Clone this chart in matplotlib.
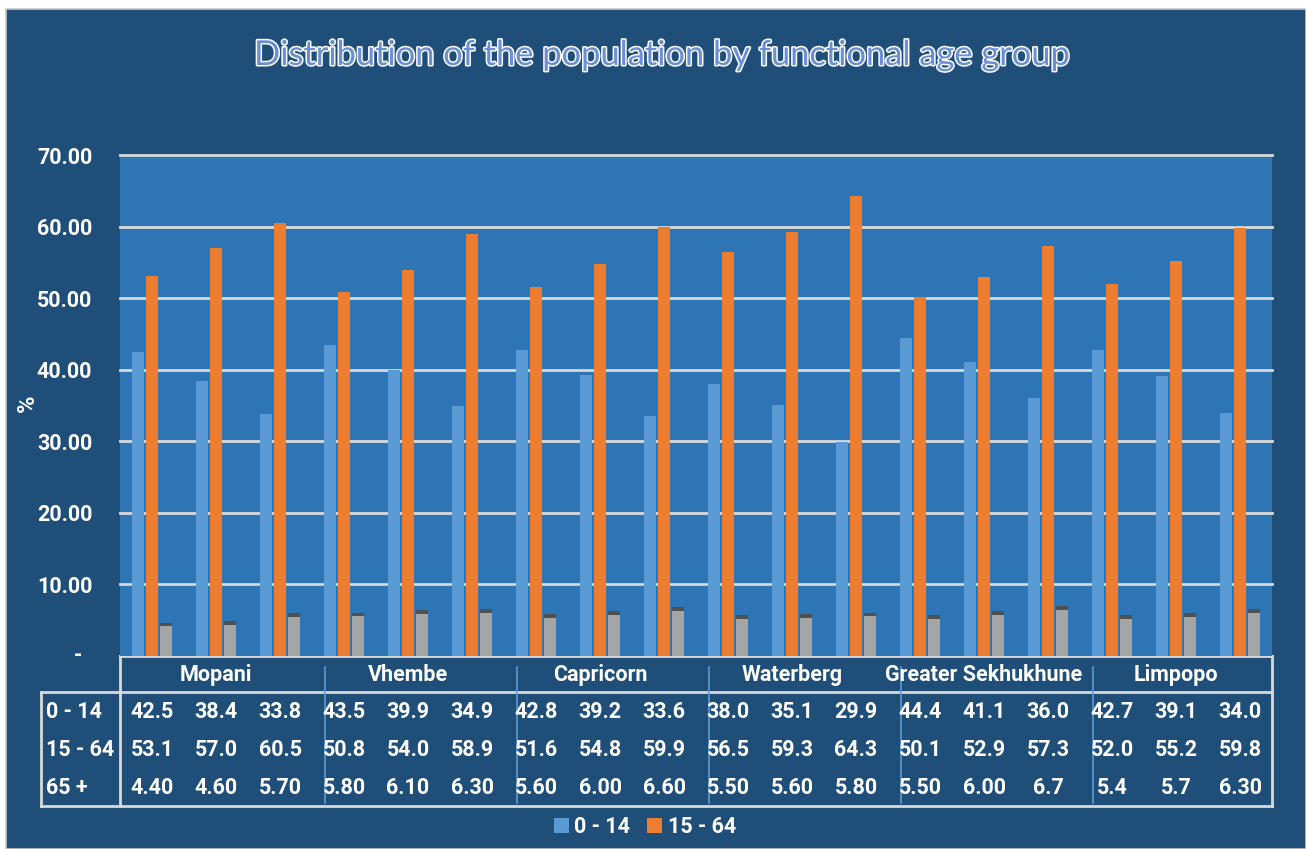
import matplotlib
matplotlib.use("Agg")
import matplotlib.pyplot as plt
import matplotlib.patheffects as pe
from matplotlib.patches import Rectangle, Patch
from matplotlib.lines import Line2D
from matplotlib import transforms

# ---- data -------------------------------------------------------------
districts = ["Mopani", "Vhembe", "Capricorn", "Waterberg",
             "Greater Sekhukhune", "Limpopo"]
series_names = ["0 - 14", "15 - 64", "65 +"]

age_0_14 = ["42.5", "38.4", "33.8", "43.5", "39.9", "34.9",
            "42.8", "39.2", "33.6", "38.0", "35.1", "29.9",
            "44.4", "41.1", "36.0", "42.7", "39.1", "34.0"]
age_15_64 = ["53.1", "57.0", "60.5", "50.8", "54.0", "58.9",
             "51.6", "54.8", "59.9", "56.5", "59.3", "64.3",
             "50.1", "52.9", "57.3", "52.0", "55.2", "59.8"]
age_65_plus = ["4.40", "4.60", "5.70", "5.80", "6.10", "6.30",
               "5.60", "6.00", "6.60", "5.50", "5.60", "5.80",
               "5.50", "6.00", "6.7", "5.4", "5.7", "6.30"]

y_ticks = [0, 10, 20, 30, 40, 50, 60, 70]

# ---- style --------------------------------------------------------------
W, H = 1306, 849
BG = "#1f4e79"
PLOT_BG = "#2e75b6"
GRID = "#d9d9d9"
C_YOUNG = "#5b9bd5"
C_WORK = "#ed7d31"
C_OLD = "#a5a5a5"
C_CAP = "#505050"
TITLE_FONT = "Lato"
BOLD_FONT = "Roboto"
FS = 15.5

plt.rcParams["font.family"] = [BOLD_FONT, "DejaVu Sans"]


def fx(px):
    return px / W


def fy(py):
    return 1 - py / H


fig = plt.figure(figsize=(W / 100, H / 100), dpi=100, facecolor="white")
fig.patches.append(Rectangle((fx(6), 0), 1 - fx(6), fy(9), transform=fig.transFigure,
                             facecolor=BG, edgecolor="#c8c8c8", linewidth=1.2, zorder=-5))

ax = fig.add_axes([fx(120), fy(656), fx(1272) - fx(120), fy(155) - fy(656)])
ax.set_zorder(2)
ax.set_facecolor(PLOT_BG)
for s in ax.spines.values():
    s.set_visible(False)

n = len(age_0_14)
xs = list(range(n))
young = [float(v) for v in age_0_14]
work = [float(v) for v in age_15_64]
old = [float(v) for v in age_65_plus]

bw = 0.18
off = 0.22
ax.bar([x - off for x in xs], young, width=bw, color=C_YOUNG, zorder=3)
ax.bar(xs, work, width=bw, color=C_WORK, zorder=3)
ax.bar([x + off for x in xs], old, width=bw, color=C_OLD, zorder=3)
# darker top face on the 65+ bars
cap = 0.55
ax.bar([x + off for x in xs], [cap] * n, bottom=[v - cap / 2 for v in old],
       width=bw, color=C_CAP, zorder=4)

ax.set_xlim(-0.5, n - 0.5)
ax.set_ylim(0, 70)
for t in y_ticks[1:]:
    ax.axhline(t, color=GRID, linewidth=2, zorder=1, clip_on=False)

ax.set_xticks([])
ax.set_yticks(y_ticks)
ax.set_yticklabels(["" if t == 0 else f"{t:.2f}" for t in y_ticks])
ax.tick_params(axis="y", length=0, pad=20, labelcolor="white", labelsize=FS)
for lab in ax.get_yticklabels():
    lab.set_fontweight("bold")
# accounting-style zero label
yt = transforms.blended_transform_factory(fig.transFigure, ax.transData)
fig.text(fx(78), y_ticks[0], "-", transform=yt, ha="center", va="center",
         color="white", fontsize=FS, fontweight="bold")

fig.text(fx(27), fy(403), "%", rotation=90, ha="center", va="center",
         color="white", fontsize=17, fontweight="bold")

# ---- title --------------------------------------------------------------
fig.text(fx(663), fy(55), "Distribution of the population by functional age group",
         ha="center", va="center", fontsize=24.8, color="#6b8fd6", family=TITLE_FONT,
         path_effects=[pe.withStroke(linewidth=2.2, foreground="white")])

# ---- data table ---------------------------------------------------------
bt = transforms.blended_transform_factory(ax.transData, fig.transFigure)
ft = fig.transFigure
tab_kw = dict(color=GRID, linewidth=2, solid_capstyle="projecting")

top_y, hdr_y, bot_y = 656, 692, 806
left_lab, left_val, right_x = 41, 120, 1272
# table frame
fig.add_artist(Line2D([fx(left_val), fx(right_x)], [fy(top_y)] * 2, transform=ft, **tab_kw))
fig.add_artist(Line2D([fx(left_lab), fx(right_x)], [fy(hdr_y)] * 2, transform=ft, **tab_kw))
fig.add_artist(Line2D([fx(left_lab), fx(right_x)], [fy(bot_y)] * 2, transform=ft, **tab_kw))
fig.add_artist(Line2D([fx(left_val)] * 2, [fy(top_y), fy(bot_y)], transform=ft, **tab_kw))
fig.add_artist(Line2D([fx(right_x)] * 2, [fy(top_y), fy(bot_y)], transform=ft, **tab_kw))
fig.add_artist(Line2D([fx(left_lab)] * 2, [fy(hdr_y), fy(bot_y)], transform=ft, **tab_kw))

# group separators
for g in range(1, len(districts)):
    xb = 3 * g - 0.5 + 0.2
    fig.add_artist(Line2D([xb, xb], [fy(667), fy(803)], transform=bt,
                          color=C_YOUNG, linewidth=1.2))

txt_kw = dict(color="white", fontsize=FS, fontweight="bold", va="center")
for g, name in enumerate(districts):
    fig.text(3 * g + 1, fy(675), name, transform=bt, ha="center", **txt_kw)

rows_y = [712, 750, 788]
for name, vals, ry in zip(series_names, [age_0_14, age_15_64, age_65_plus], rows_y):
    fig.text(fx(46), fy(ry), name, ha="left", **txt_kw)
    for x, v in zip(xs, vals):
        fig.text(x, fy(ry), v, transform=bt, ha="center", **txt_kw)

# ---- legend -------------------------------------------------------------
handles = [Patch(facecolor=C_YOUNG, edgecolor="none", label=series_names[0]),
           Patch(facecolor=C_WORK, edgecolor="none", label=series_names[1])]
leg = fig.legend(handles=handles, loc="center", bbox_to_anchor=(fx(645), fy(827)),
                 ncol=2, frameon=False, handlelength=0.68, handleheight=0.68,
                 handletextpad=0.25, columnspacing=0.8,
                 prop={"family": BOLD_FONT, "weight": "bold", "size": FS})
for t in leg.get_texts():
    t.set_color("white")

fig.savefig("out.png", dpi=100, facecolor=fig.get_facecolor())
